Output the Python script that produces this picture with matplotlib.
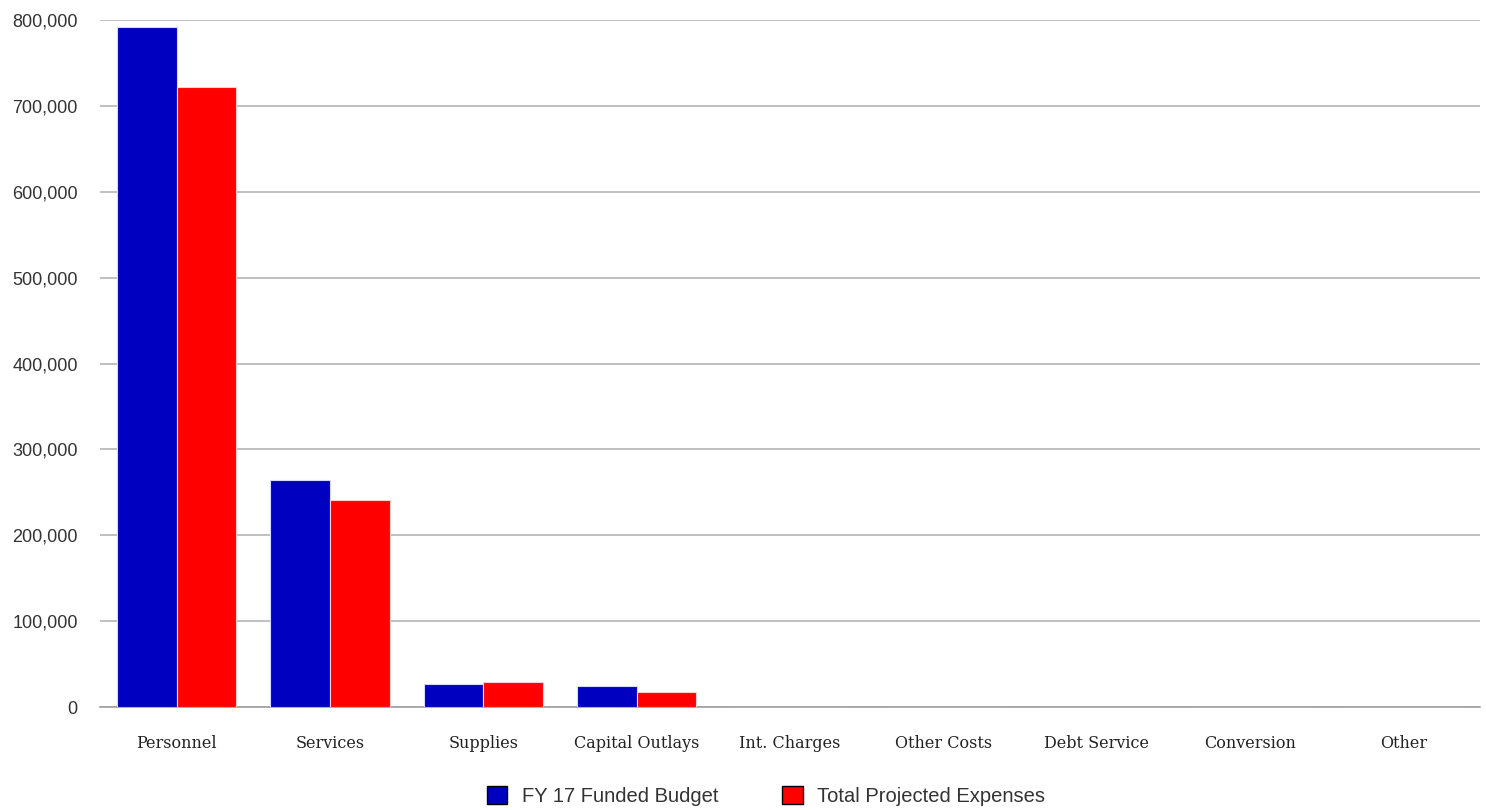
import numpy as np
import matplotlib
matplotlib.use("Agg")
import matplotlib.pyplot as plt
from matplotlib.ticker import FuncFormatter

categorias = ["Personnel", "Services", "Supplies", "Capital Outlays", "Int. Charges",
              "Other Costs", "Debt Service", "Conversion", "Other"]
orcamento = [792000, 264000, 26500, 24000, 0, 0, 0, 0, 0]
despesas = [722000, 241000, 28800, 17200, 0, 0, 0, 0, 0]
series = ["FY 17 Funded Budget", "Total Projected Expenses"]

azul = "#0000c0"
vermelho = "#ff0000"

fig = plt.figure(figsize=(14.86, 8.10), dpi=100)
ax = fig.add_axes([100 / 1486, 103 / 810, 1380 / 1486, 687 / 810])

x = np.arange(len(categorias))
larg = 0.39
ax.bar(x - larg / 2, orcamento, larg, color=azul, edgecolor="#d8d8ff", linewidth=0.8,
       label=series[0], zorder=3)
ax.bar(x + larg / 2, despesas, larg, color=vermelho, edgecolor="#ffd0d0", linewidth=0.8,
       label=series[1], zorder=3)

ax.set_xlim(-0.5, len(categorias) - 0.5)
ax.set_ylim(0, 800000)
ax.set_yticks(np.arange(0, 800001, 100000))
ax.yaxis.set_major_formatter(FuncFormatter(lambda v, p: f"{int(v):,}"))
ax.grid(axis="y", color="#b4b4b4", linewidth=1.2, zorder=0)

ax.set_xticks(x)
ax.set_xticklabels(categorias, fontfamily="DejaVu Serif", fontsize=11.5, color="#222222")
for lbl in ax.get_yticklabels():
    lbl.set_fontfamily("Liberation Sans")
    lbl.set_fontsize(13)
    lbl.set_color("#333333")
ax.tick_params(axis="both", length=0)
ax.tick_params(axis="x", pad=20)
ax.tick_params(axis="y", pad=16)

for s in ["top", "right", "left"]:
    ax.spines[s].set_visible(False)
ax.spines["bottom"].set_color("#a0a0a0")
ax.spines["bottom"].set_linewidth(1.2)

leg = fig.legend(loc="center", bbox_to_anchor=(766 / 1486, 1 - 796 / 810), ncol=2,
                 frameon=False, prop={"family": "Liberation Sans", "size": 14.5},
                 handlelength=1.0, handleheight=1.0, columnspacing=3.2, handletextpad=0.7)
for h in leg.legend_handles:
    h.set_edgecolor("black")
    h.set_linewidth(1.0)
for t in leg.get_texts():
    t.set_color("#333333")

fig.savefig("out.png", dpi=100)
